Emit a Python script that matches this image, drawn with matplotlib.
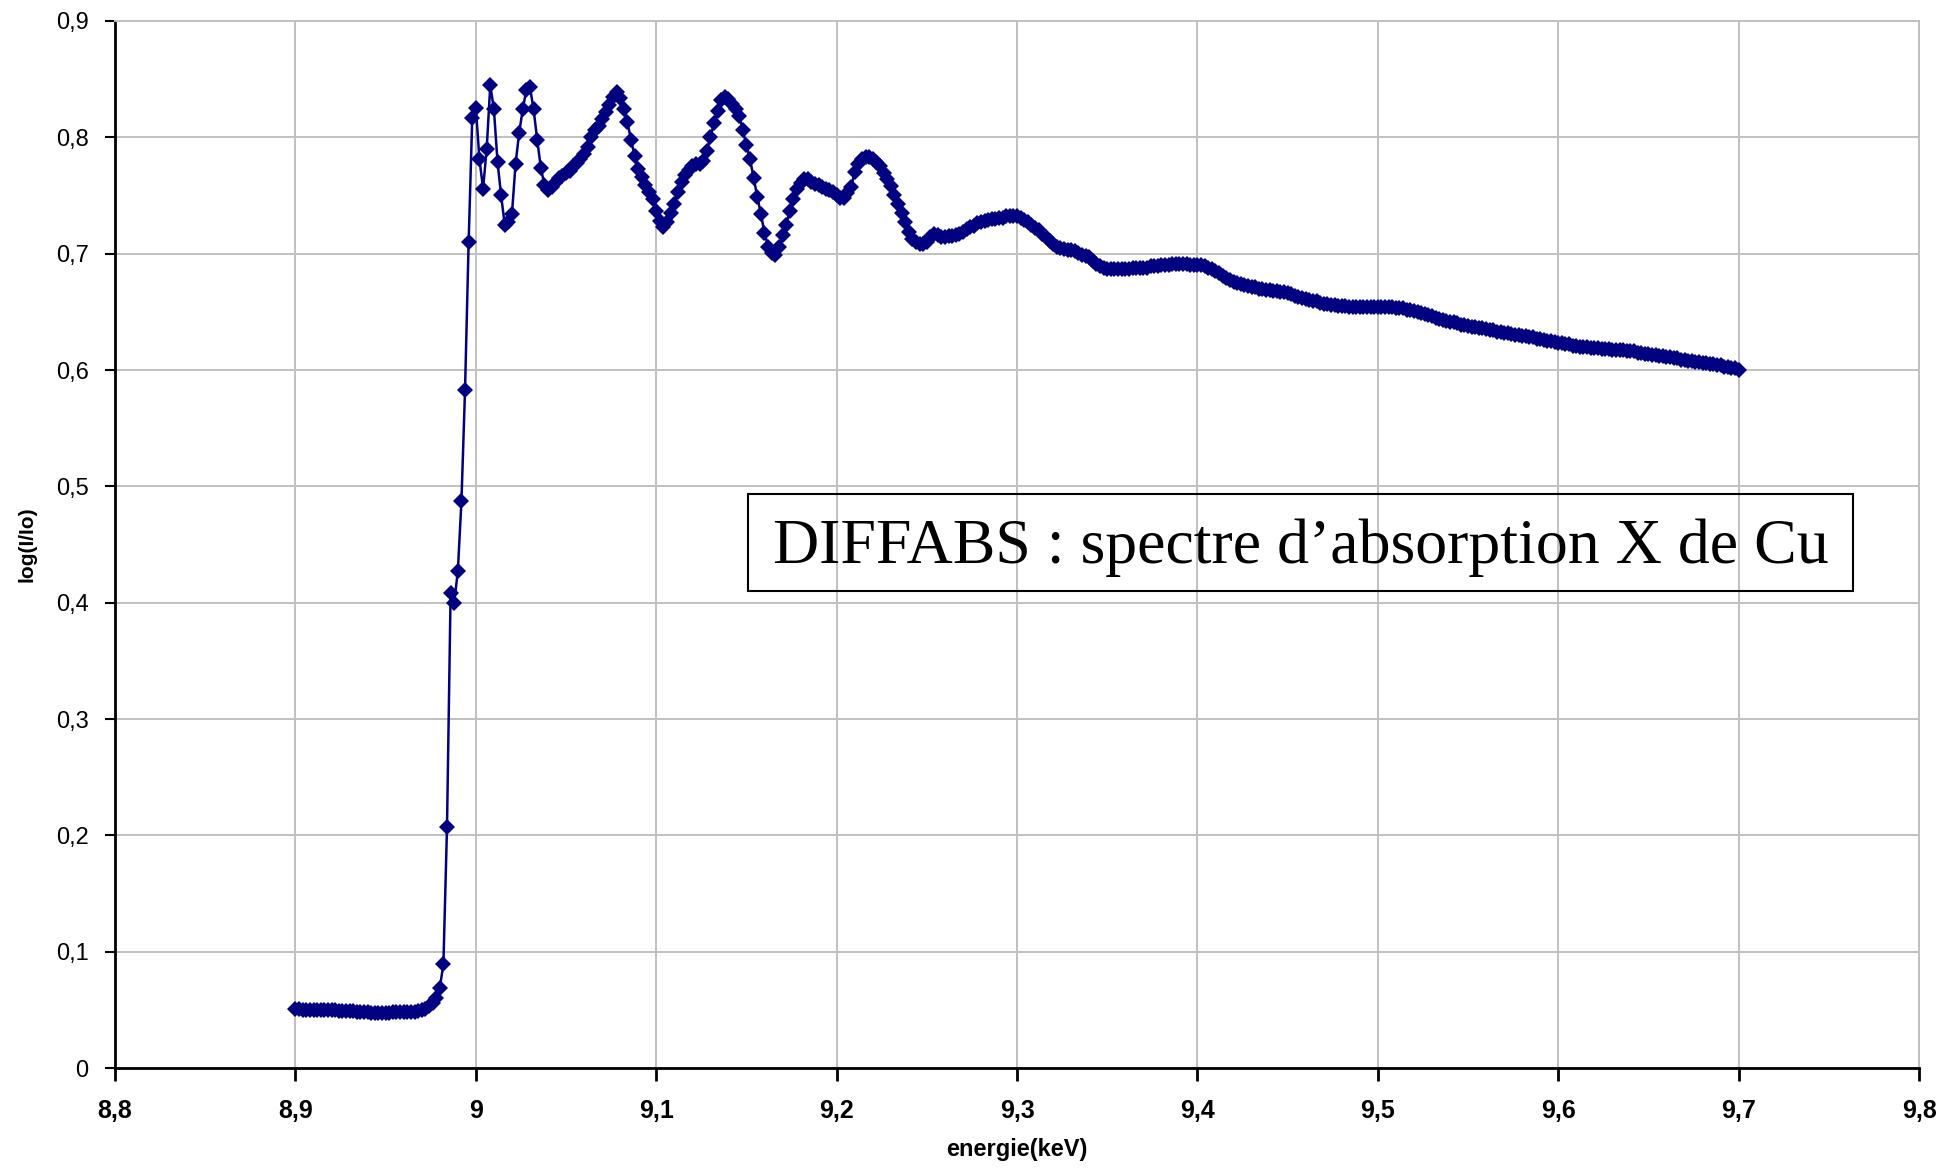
import numpy as np
import matplotlib
matplotlib.use("Agg")
import matplotlib.pyplot as plt
from matplotlib.patches import Rectangle

# scan grid: 8.900 -> 9.700 keV, 2 eV step
e_start = 8.900
e_step = 0.002

# log(I/Io), one row = 10 points (0.02 keV)
absorbance = [
    0.051, 0.051, 0.050, 0.050, 0.050, 0.050, 0.050, 0.050, 0.050, 0.050,
    0.050, 0.050, 0.049, 0.049, 0.049, 0.049, 0.049, 0.048, 0.048, 0.048,
    0.048, 0.047, 0.047, 0.047, 0.047, 0.047, 0.047, 0.048, 0.048, 0.048,
    0.048, 0.048, 0.048, 0.048, 0.049, 0.050, 0.051, 0.053, 0.056, 0.060,
    0.069, 0.089, 0.207, 0.408, 0.400, 0.427, 0.487, 0.583, 0.710, 0.817,
    0.825, 0.781, 0.756, 0.790, 0.845, 0.824, 0.779, 0.750, 0.725, 0.727,
    0.734, 0.777, 0.804, 0.824, 0.841, 0.843, 0.824, 0.798, 0.774, 0.759,
    0.755, 0.757, 0.761, 0.765, 0.767, 0.769, 0.771, 0.775, 0.778, 0.781,
    0.786, 0.792, 0.800, 0.806, 0.810, 0.816, 0.822, 0.828, 0.835, 0.839,
    0.834, 0.824, 0.813, 0.798, 0.784, 0.773, 0.766, 0.759, 0.753, 0.747,
    0.737, 0.728, 0.723, 0.727, 0.735, 0.743, 0.753, 0.762, 0.768, 0.772,
    0.775, 0.777, 0.777, 0.780, 0.788, 0.800, 0.812, 0.823, 0.832, 0.835,
    0.833, 0.829, 0.824, 0.818, 0.806, 0.793, 0.781, 0.765, 0.749, 0.734,
    0.718, 0.706, 0.701, 0.699, 0.706, 0.716, 0.725, 0.737, 0.747, 0.756,
    0.761, 0.764, 0.764, 0.762, 0.760, 0.759, 0.757, 0.756, 0.755, 0.753,
    0.750, 0.748, 0.748, 0.752, 0.757, 0.770, 0.777, 0.781, 0.783, 0.783,
    0.781, 0.779, 0.775, 0.769, 0.764, 0.758, 0.750, 0.743, 0.735, 0.727,
    0.719, 0.713, 0.710, 0.708, 0.708, 0.710, 0.714, 0.717, 0.716, 0.714,
    0.714, 0.715, 0.715, 0.716, 0.717, 0.719, 0.721, 0.723, 0.724, 0.726,
    0.727, 0.728, 0.729, 0.730, 0.730, 0.731, 0.731, 0.732, 0.732, 0.732,
    0.732, 0.731, 0.729, 0.727, 0.725, 0.722, 0.720, 0.717, 0.714, 0.711,
    0.708, 0.706, 0.705, 0.704, 0.703, 0.703, 0.702, 0.701, 0.699, 0.698,
    0.697, 0.694, 0.691, 0.689, 0.688, 0.687, 0.687, 0.687, 0.687, 0.687,
    0.687, 0.687, 0.688, 0.688, 0.688, 0.688, 0.688, 0.689, 0.689, 0.689,
    0.690, 0.690, 0.690, 0.691, 0.691, 0.691, 0.691, 0.691, 0.690, 0.690,
    0.690, 0.690, 0.689, 0.688, 0.687, 0.685, 0.683, 0.681, 0.679, 0.677,
    0.676, 0.675, 0.674, 0.673, 0.672, 0.671, 0.671, 0.670, 0.670, 0.669,
    0.669, 0.668, 0.668, 0.667, 0.667, 0.666, 0.665, 0.664, 0.663, 0.662,
    0.661, 0.660, 0.659, 0.659, 0.658, 0.657, 0.657, 0.656, 0.656, 0.655,
    0.655, 0.655, 0.654, 0.654, 0.654, 0.654, 0.654, 0.654, 0.654, 0.654,
    0.654, 0.654, 0.654, 0.654, 0.654, 0.653, 0.653, 0.653, 0.652, 0.652,
    0.651, 0.650, 0.649, 0.648, 0.647, 0.646, 0.645, 0.644, 0.643, 0.642,
    0.641, 0.641, 0.640, 0.639, 0.639, 0.638, 0.637, 0.637, 0.636, 0.636,
    0.635, 0.634, 0.634, 0.633, 0.633, 0.632, 0.632, 0.631, 0.630, 0.630,
    0.629, 0.629, 0.628, 0.628, 0.627, 0.627, 0.626, 0.625, 0.625, 0.624,
    0.623, 0.623, 0.622, 0.622, 0.621, 0.621, 0.620, 0.620, 0.620, 0.619,
    0.619, 0.619, 0.618, 0.618, 0.618, 0.617, 0.617, 0.617, 0.617, 0.616,
    0.616, 0.616, 0.615, 0.615, 0.614, 0.614, 0.613, 0.613, 0.612, 0.612,
    0.611, 0.611, 0.610, 0.610, 0.609, 0.609, 0.608, 0.608, 0.607, 0.607,
    0.606, 0.606, 0.605, 0.605, 0.604, 0.604, 0.603, 0.603, 0.602, 0.602,
    0.600,
]

x_ticks = [8.8, 8.9, 9.0, 9.1, 9.2, 9.3, 9.4, 9.5, 9.6, 9.7, 9.8]
x_labels = ["8,8", "8,9", "9", "9,1", "9,2", "9,3", "9,4", "9,5", "9,6", "9,7", "9,8"]
y_ticks = [0, 0.1, 0.2, 0.3, 0.4, 0.5, 0.6, 0.7, 0.8, 0.9]
y_labels = ["0", "0,1", "0,2", "0,3", "0,4", "0,5", "0,6", "0,7", "0,8", "0,9"]

title_box = "DIFFABS : spectre d\u2019absorption X de Cu"

energy = np.round(e_start + e_step * np.arange(len(absorbance)), 3)

plt.rcParams['font.family'] = ['Liberation Sans', 'DejaVu Sans']

fig = plt.figure(figsize=(19.57, 11.73), dpi=100)
ax = fig.add_axes([0.0588, 0.0895, 0.9218, 0.8926])

ax.plot(energy, absorbance, color='#000080', linewidth=1.8,
        marker='D', markersize=8.5, markeredgewidth=0, zorder=3)

ax.set_xlim(8.8, 9.8)
ax.set_ylim(0, 0.9)
ax.set_xticks(x_ticks)
ax.set_xticklabels(x_labels, fontsize=18, fontweight='heavy')
ax.set_yticks(y_ticks)
ax.set_yticklabels(y_labels, fontsize=17)

ax.grid(True, color='#c0c0c0', linewidth=1.4)
ax.set_axisbelow(True)

for side in ['top', 'right']:
    ax.spines[side].set_color('#c0c0c0')
    ax.spines[side].set_linewidth(1.4)
for side in ['left', 'bottom']:
    ax.spines[side].set_color('black')
    ax.spines[side].set_linewidth(2.0)

ax.tick_params(axis='x', direction='out', length=9, width=2, pad=13)
ax.tick_params(axis='y', direction='out', length=7, width=1.5, pad=12)

ax.set_xlabel("energie(keV)", fontsize=17, fontweight='heavy', labelpad=11)
ax.set_ylabel("log(I/Io)", fontsize=15, fontweight='heavy', labelpad=14)

# caption box (no fill, the grid shows through)
ax.add_patch(Rectangle((0.351, 0.4556), 0.6124, 0.0926, transform=ax.transAxes,
                       fill=False, edgecolor='black', linewidth=1.5, zorder=4))
ax.text(0.6571, 0.4965, title_box, transform=ax.transAxes, ha='center', va='center',
        fontsize=46, family=['Liberation Serif', 'DejaVu Serif'], zorder=5)

fig.savefig('out.png', dpi=100)
